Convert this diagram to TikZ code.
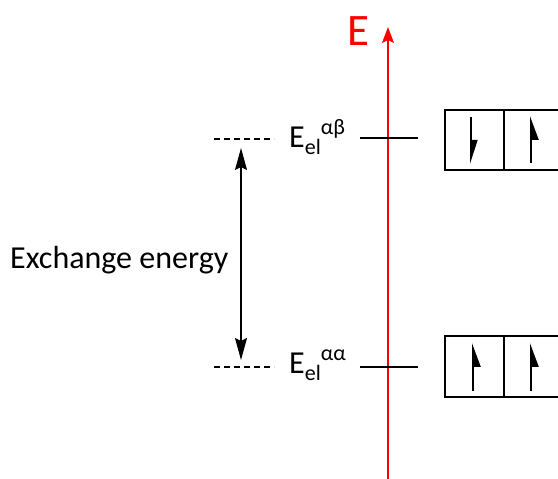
\documentclass[tikz,border=0pt]{standalone}
\usepackage{fontspec}
\setmainfont{Carlito}
\usetikzlibrary{arrows.meta,positioning}

\begin{document}
\begin{tikzpicture}[
    x=1pt, y=-1pt,
    lvl/.style={line width=1.8pt, draw=black},
    dashlvl/.style={dashed, dash pattern=on 6pt off 4pt, line width=1.2pt},
    spinbox/.style={rectangle, draw=black, line width=1.8pt, minimum width=59pt,
                    minimum height=60pt, inner sep=0pt, outer sep=0pt},
    spinup/.style={line width=2pt, -{Triangle[length=21pt,width=15pt,right]}},
    spindown/.style={line width=2pt, -{Triangle[length=21pt,width=13pt,left]}},
    gaparr/.style={line width=1.4pt, {Stealth[length=22pt,width=12pt,inset=3pt]}-{Stealth[length=22pt,width=12pt,inset=3pt]}},
    axis/.style={red, line width=1.6pt, -{Stealth[length=16pt,width=12pt,inset=3pt]}},
    big/.style={font=\fontsize{32}{32}\selectfont},
  ]
  \clip (0,0) rectangle (558,479);
  \useasboundingbox (0,0) rectangle (558,479);

  % energy axis
  \coordinate (axbot) at (388,479);
  \coordinate (axtop) at (388,27);
  \draw[axis] (axbot) -- (axtop);
  \node[red, font=\fontsize{45}{45}\selectfont] (Elab) at (358,31) {E};

  % levels
  \coordinate (upL) at (360,138);
  \coordinate (upR) at (418,138);
  \coordinate (loL) at (360,367);
  \coordinate (loR) at (418,367);
  \draw[lvl] (upL) -- (upR);
  \draw[lvl] (loL) -- (loR);

  \node[big, anchor=base west, inner sep=0pt] (Eab) at (289,147)
    {E\raisebox{-7pt}{\fontsize{22}{22}\selectfont el}\raisebox{13pt}{\fontsize{22}{22}\selectfont αβ}};
  \node[big, anchor=base west, inner sep=0pt] (Eaa) at (289,373)
    {E\raisebox{-7pt}{\fontsize{22}{22}\selectfont el}\raisebox{13pt}{\fontsize{22}{22}\selectfont αα}};

  % dashed guides and gap
  \coordinate (dupL) at (214,139);
  \coordinate (dupR) at (274,139);
  \coordinate (dloL) at (214,367);
  \coordinate (dloR) at (274,367);
  \draw[dashlvl] (dupL) -- (dupR);
  \draw[dashlvl] (dloL) -- (dloR);
  \coordinate (gtop) at (241,148);
  \coordinate (gbot) at (241,360);
  \draw[gaparr] (gbot) -- (gtop);
  \node[big, anchor=base west, inner sep=0pt] (exlab) at (10,268) {Exchange energy};

  % spin boxes
  \node[spinbox] (ab1) at (474.5,140) {};
  \node[spinbox, right=0pt of ab1] (ab2) {};
  \node[spinbox, minimum height=61pt] (aa1) at (474.5,366.5) {};
  \node[spinbox, minimum height=61pt, right=0pt of aa1] (aa2) {};

  \draw[spindown] ([shift={(-3.5,-23)}]ab1.center) -- ([shift={(-3.5,24)}]ab1.center);
  \draw[spinup] ([shift={(-2.5,23)}]ab2.center) -- ([shift={(-2.5,-24)}]ab2.center);
  \draw[spinup] ([shift={(-1.5,24.5)}]aa1.center) -- ([shift={(-1.5,-23.5)}]aa1.center);
  \draw[spinup] ([shift={(-2.5,24.5)}]aa2.center) -- ([shift={(-2.5,-23.5)}]aa2.center);
\end{tikzpicture}
\end{document}
